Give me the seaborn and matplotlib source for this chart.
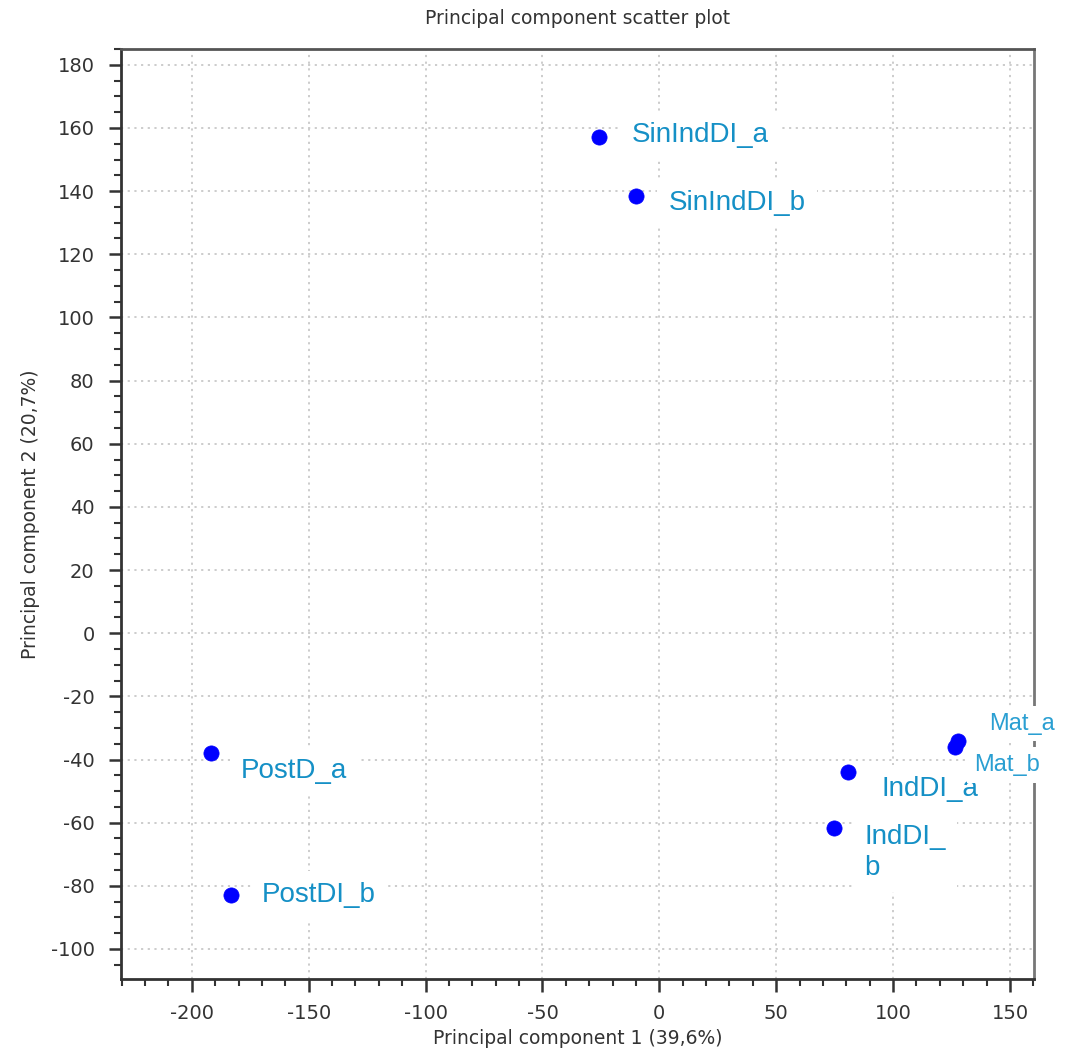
import matplotlib
matplotlib.use("Agg")
import matplotlib.pyplot as plt
import seaborn as sns
import pandas as pd
from matplotlib.ticker import MultipleLocator

# PCA scores
samples = ["SinIndDI_a", "SinIndDI_b", "PostD_a", "PostDI_b",
           "IndDI_a", "IndDI_b", "Mat_a", "Mat_b"]
pc1 = [-26.0, -9.8, -191.9, -183.3, 80.8, 74.8, 127.6, 126.5]
pc2 = [157.0, 138.3, -38.0, -82.9, -44.0, -61.7, -34.0, -36.0]
labels = ["SinIndDI_a", "SinIndDI_b", "PostD_a", "PostDI_b",
          "IndDI_a", "IndDI_\nb", "Mat_a", "Mat_b"]

df = pd.DataFrame({"sample": samples, "PC1": pc1, "PC2": pc2})

sns.set_style("white")
plt.rcParams['font.family'] = ['DejaVu Sans']
plt.rcParams['axes.unicode_minus'] = False

fig = plt.figure(figsize=(10.71, 10.52), dpi=100)
ax = fig.add_axes([0.113, 0.0694, 0.8525, 0.884])

sns.scatterplot(data=df, x="PC1", y="PC2", color="#0000ff", s=120,
                edgecolor="#0000ff", linewidth=0.5, ax=ax, zorder=3)

# label offsets in pixels (dx, dy) from each point
offsets = [(33, 2), (32, -7), (30, -18), (31, 0), (33, -17), (30, -24), (32, 17), (19, -18)]
sizes = [20, 20, 20, 20, 20, 20, 17, 17]
for i, lab in enumerate(labels):
    big = sizes[i] == 20
    ax.annotate(lab, (df.PC1[i], df.PC2[i]), xytext=offsets[i], textcoords="offset pixels",
                ha="left", va="center", fontsize=sizes[i],
                color="#1590c6" if big else "#2a9fd2",
                family="Liberation Sans", annotation_clip=False, clip_on=False,
                zorder=6 if not big else 4, linespacing=1.25,
                bbox=dict(facecolor="white", edgecolor="none",
                          pad=8 if big else 5))

ax.set_xlim(-230.3, 160.3)
ax.set_ylim(-109.5, 185)
ax.xaxis.set_major_locator(MultipleLocator(50))
ax.xaxis.set_minor_locator(MultipleLocator(10))
ax.yaxis.set_major_locator(MultipleLocator(20))
ax.yaxis.set_minor_locator(MultipleLocator(5))

ax.grid(True, which="major", linestyle=(0, (1.2, 2.5)), color="#c8c8c8", linewidth=1.3)
ax.set_axisbelow(True)
ax.tick_params(which="major", direction="out", length=9, width=1.8, color="#333333",
               labelsize=14, labelcolor="#333333")
ax.tick_params(axis="x", which="major", pad=9)
ax.tick_params(axis="y", which="major", pad=10)
ax.tick_params(which="minor", direction="out", length=5, width=1.5, color="#333333")
ax.tick_params(left=True, bottom=True, which="both")

for side in ["left", "bottom"]:
    ax.spines[side].set_color("#333333")
    ax.spines[side].set_linewidth(2)
ax.spines["top"].set_color("#555555")
ax.spines["top"].set_linewidth(2)
ax.spines["right"].set_color("#777777")
ax.spines["right"].set_linewidth(2)

ax.set_title("Principal component scatter plot", fontsize=13.5, color="#333333", pad=18)
ax.set_xlabel("Principal component 1 (39,6%)", fontsize=13.5, color="#333333", va="center")
ax.xaxis.set_label_coords(0.5, -0.064)
ax.set_ylabel("Principal component 2 (20,7%)", fontsize=13.5, color="#333333", labelpad=8)

plt.savefig("out.png", dpi=100)
